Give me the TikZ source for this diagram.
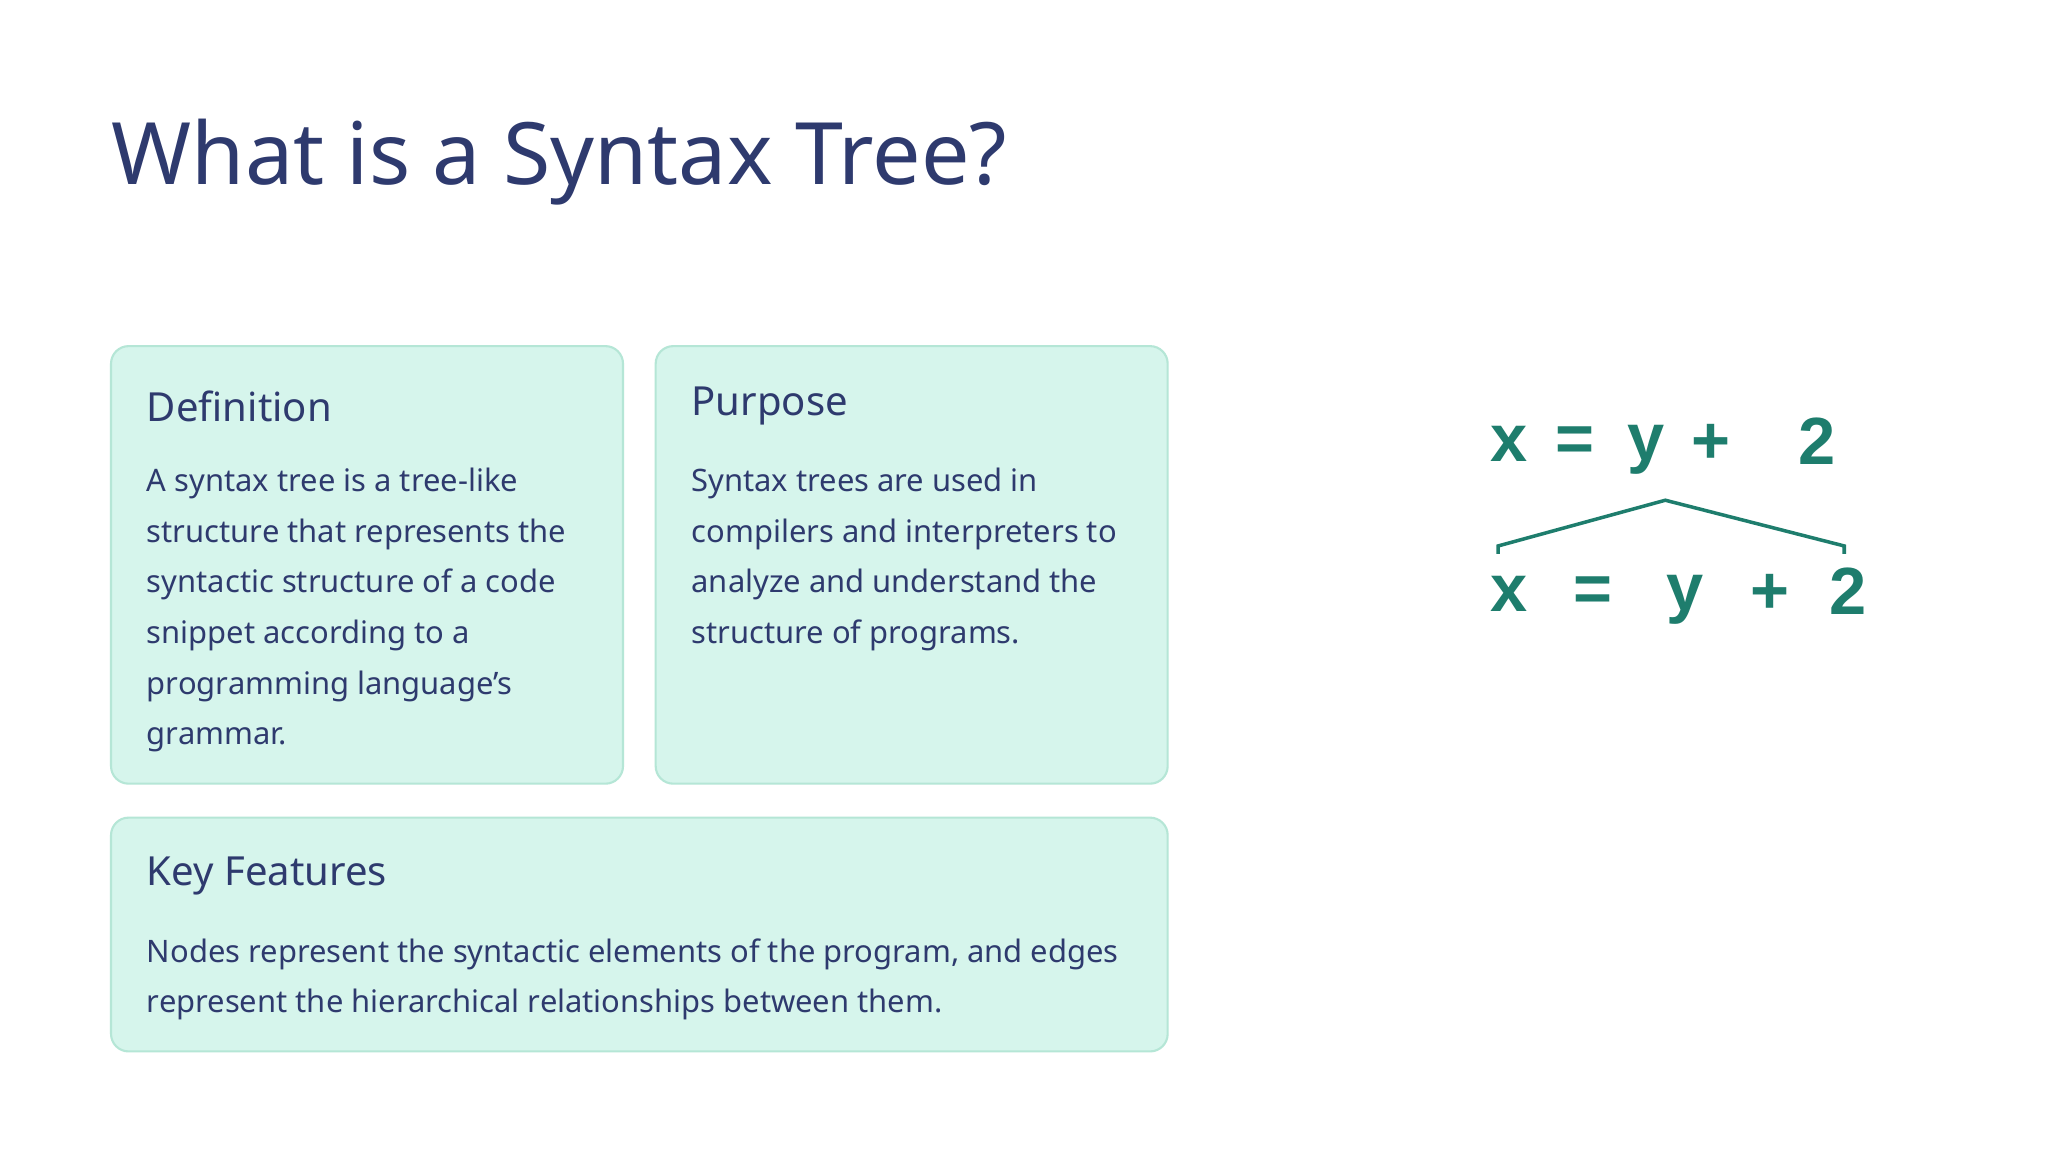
\documentclass[tikz,border=0pt]{standalone}
\usepackage{fontspec}
\setmainfont{Noto Sans}[BoldFeatures={FakeBold=2.5}]
\newfontfamily\eqfont{Liberation Sans}
\definecolor{navy}{HTML}{2E3A6E}
\definecolor{mint}{HTML}{D6F5EC}
\definecolor{mintline}{HTML}{B5E6D6}
\definecolor{teal}{HTML}{1E7D6D}
\tikzset{
  card/.style={draw=mintline,fill=mint,rounded corners=5pt,line width=0.6pt},
  head/.style={anchor=west,text=navy,font=\bfseries\fontsize{11.4}{14}\selectfont},
  body/.style={anchor=north west,text=navy,align=left,font=\fontsize{8.8}{14.4}\selectfont},
  sym/.style={text=teal,font=\eqfont\bfseries\fontsize{19}{20}\selectfont,inner sep=0pt}
}
\begin{document}
\begin{tikzpicture}[x=0.01306cm,y=-0.01306cm]

	\useasboundingbox[fill=white] (0,0) rectangle (1568,882);

	\node[anchor=base west,text=navy,font=\bfseries\fontsize{24.5}{30}\selectfont,inner sep=0pt] (title) at (85,141) {What is a Syntax Tree?};

	\draw[card] (85,265) rectangle (477,600);
	\draw[card] (502,265) rectangle (894,600);
	\draw[card] (85,626) rectangle (894,805);

	\node[head] (defhead) at (103,311) {Definition};
	\node[body] (defbody) at (103,349) {A syntax tree is a tree-like\\structure that represents the\\syntactic structure of a code\\snippet according to a\\programming language's\\grammar.};
	\node[head] (purhead) at (520,311) {Purpose};
	\node[body] (purbody) at (520,349) {Syntax trees are used in\\compilers and interpreters to\\analyze and understand the\\structure of programs.};
	\node[head] (keyhead) at (103,671) {Key Features};
	\node[body] (keybody) at (103,709) {Nodes represent the syntactic elements of the program, and edges\\represent the hierarchical relationships between them.};

	% source line
	\node[sym] (x1) at (1155,340) {x};
	\node[sym] (e1) at (1206,340) {=};
	\node[sym] (y1) at (1260,344) {y};
	\node[sym] (p1) at (1310,340) {+};
	\node[sym] (n1) at (1391,338) {2};

	% bracket
	\coordinate (top) at (1275,383);
	\coordinate (bl) at (1147,418);
	\coordinate (br) at (1412,418);
	\draw[teal,line width=1pt] (bl)++(0,6) -- (bl) -- (top) -- (br) -- ++(0,6);

	% split tokens
	\node[sym] (x2) at (1155,455) {x};
	\node[sym] (e2) at (1220,455) {=};
	\node[sym] (y2) at (1290,459) {y};
	\node[sym] (p2) at (1355,455) {+};
	\node[sym] (n2) at (1415,453) {2};

\end{tikzpicture}
\end{document}
